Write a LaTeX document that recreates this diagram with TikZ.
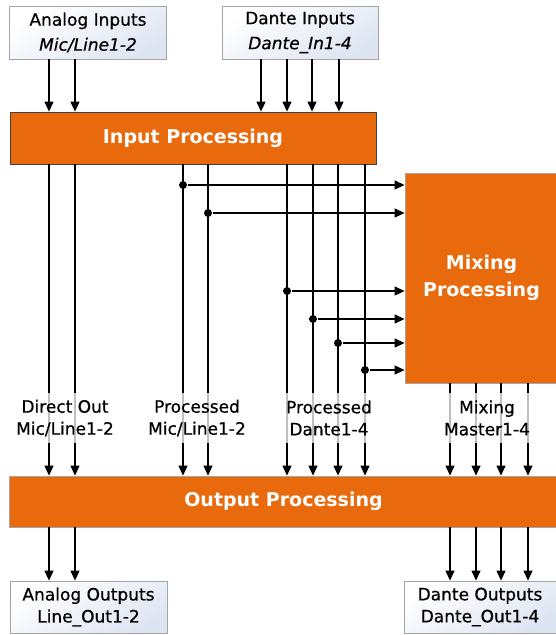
\documentclass[tikz,border=0pt]{standalone}
\usepackage{fontspec}
\setmainfont{DejaVu Sans}
\newfontfamily\medfont{DejaVu Sans}[FakeBold=0.6]
\usetikzlibrary{arrows.meta}

\definecolor{procorange}{RGB}{233,106,12}
\definecolor{boxblue}{RGB}{222,229,242}
\definecolor{boxgray}{RGB}{165,165,165}

\begin{document}
\begin{tikzpicture}[x=1pt, y=-1pt, line width=1.2pt, >={Triangle[length=10pt,width=9pt]},
	io/.style = {draw=boxgray, line width=0.8pt, top color=white, bottom color=boxblue, shading angle=30, align=center, inner sep=0pt, font=\fontsize{17}{25}\selectfont\medfont},
	proc/.style = {draw=boxgray, line width=0.8pt, fill=procorange, text=white, align=center, inner sep=0pt, font=\fontsize{19}{27}\selectfont\bfseries},
	tap/.style = {circle, fill=black, inner sep=0pt, minimum size=8pt},
	lbl/.style = {fill=white, fill opacity=0.75, text opacity=1, align=center, inner xsep=2pt, minimum height=50pt, font=\fontsize{17}{22}\selectfont\medfont}]
	\useasboundingbox (0,0) rectangle (556,635);

	%% Nodes
	\node[io, minimum width=157pt, minimum height=53pt] (ain) at (88,32.5) {Analog Inputs\\\textit{Mic/Line1-2}};
	\node[io, minimum width=156pt, minimum height=53pt] (din) at (300,32.5) {Dante Inputs\\\textit{Dante\_In1-4}};

	\node[proc, draw=black!75, minimum width=366pt, minimum height=52pt] (inproc) at (193,138) {Input Processing};

	\node[proc, minimum width=153pt, minimum height=210pt] (mix) at (481.5,278) {Mixing\\Processing};

	\node[proc, minimum width=549pt, minimum height=51pt] (outproc) at (283.5,501.5) {Output Processing};

	\node[io, font=\fontsize{17}{22}\selectfont\medfont, minimum width=157pt, minimum height=52pt] (aout) at (88.5,607) {Analog Outputs\\Line\_Out1-2};
	\node[io, font=\fontsize{17}{22}\selectfont\medfont, minimum width=152pt, minimum height=52pt] (dout) at (480,607) {Dante Outputs\\Dante\_Out1-4};

	%% Channels
	\coordinate (a1) at (49,0);
	\coordinate (a2) at (75,0);
	\coordinate (d1) at (261,0);
	\coordinate (d2) at (287,0);
	\coordinate (d3) at (312,0);
	\coordinate (d4) at (339,0);
	\coordinate (m1) at (450,0);
	\coordinate (m2) at (476,0);
	\coordinate (m3) at (501,0);
	\coordinate (m4) at (528,0);

	\node[tap] (t1) at (183,185) {};
	\node[tap] (t2) at (208,213) {};
	\node[tap] (t3) at (287,291) {};
	\node[tap] (t4) at (313,319) {};
	\node[tap] (t5) at (338,343) {};
	\node[tap] (t6) at (365,370) {};

	%% Edges
	\draw[->] (ain.south -| a1) -- (inproc.north -| a1);
	\draw[->] (ain.south -| a2) -- (inproc.north -| a2);
	\draw[->] (din.south -| d1) -- (inproc.north -| d1);
	\draw[->] (din.south -| d2) -- (inproc.north -| d2);
	\draw[->] (din.south -| d3) -- (inproc.north -| d3);
	\draw[->] (din.south -| d4) -- (inproc.north -| d4);

	\draw[->] (inproc.south -| a1) -- (outproc.north -| a1);
	\draw[->] (inproc.south -| a2) -- (outproc.north -| a2);
	\draw[->] (inproc.south -| t1) -- (outproc.north -| t1);
	\draw[->] (inproc.south -| t2) -- (outproc.north -| t2);
	\draw[->] (inproc.south -| t3) -- (outproc.north -| t3);
	\draw[->] (inproc.south -| t4) -- (outproc.north -| t4);
	\draw[->] (inproc.south -| t5) -- (outproc.north -| t5);
	\draw[->] (inproc.south -| t6) -- (outproc.north -| t6);

	\draw[->] (t1) -- (t1 -| mix.west);
	\draw[->] (t2) -- (t2 -| mix.west);
	\draw[->] (t3) -- (t3 -| mix.west);
	\draw[->] (t4) -- (t4 -| mix.west);
	\draw[->] (t5) -- (t5 -| mix.west);
	\draw[->] (t6) -- (t6 -| mix.west);

	\draw[->] (mix.south -| m1) -- (outproc.north -| m1);
	\draw[->] (mix.south -| m2) -- (outproc.north -| m2);
	\draw[->] (mix.south -| m3) -- (outproc.north -| m3);
	\draw[->] (mix.south -| m4) -- (outproc.north -| m4);

	\draw[->] (outproc.south -| a1) -- (aout.north -| a1);
	\draw[->] (outproc.south -| a2) -- (aout.north -| a2);
	\draw[->] (outproc.south -| m1) -- (dout.north -| m1);
	\draw[->] (outproc.south -| m2) -- (dout.north -| m2);
	\draw[->] (outproc.south -| m3) -- (dout.north -| m3);
	\draw[->] (outproc.south -| m4) -- (dout.north -| m4);

	%% Labels
	\node[lbl] (ldirect) at (65,418) {Direct Out\\Mic/Line1-2};
	\node[lbl] (lprocmic) at (197,418) {Processed\\Mic/Line1-2};
	\node[lbl] (lprocdante) at (329,418) {Processed\\Dante1-4};
	\node[lbl] (lmix) at (487,418) {Mixing\\Master1-4};
\end{tikzpicture}
\end{document}
